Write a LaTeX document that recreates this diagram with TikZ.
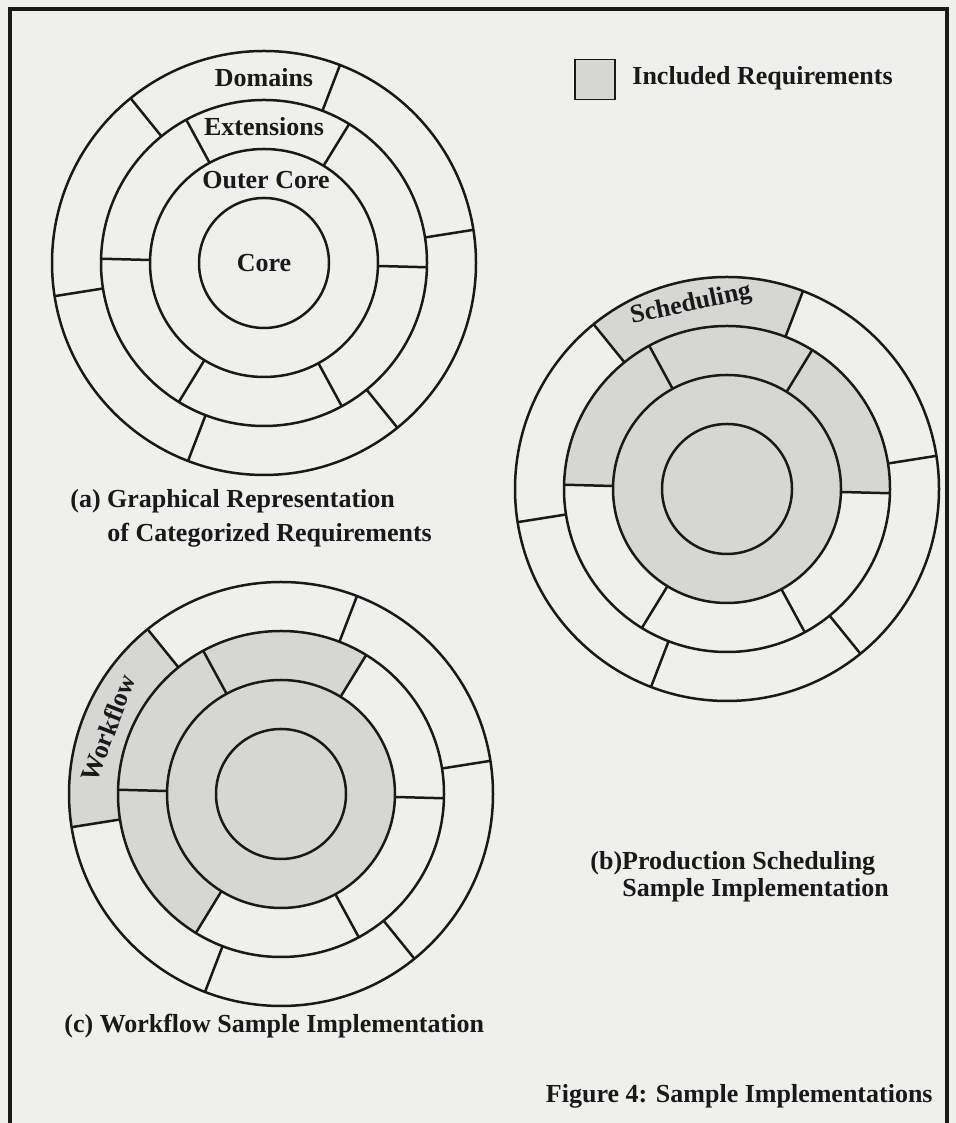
\documentclass[tikz,border=0pt]{standalone}
\usepackage{fontspec}
\setmainfont{Liberation Serif}
\usepackage{tikz}
\usetikzlibrary{positioning}
\usepackage{xcolor}
\definecolor{paper}{RGB}{239, 239, 237}
\definecolor{inclgray}{RGB}{214, 214, 212}
\definecolor{inkblack}{RGB}{25, 25, 25}
% filled ring sector: centre, start angle, end angle, inner radius, outer radius
\newcommand{\ringsector}[5]{%
	\fill[incl, shift={(#1)}] (#2:#4) arc[start angle=#2, end angle=#3, radius=#4]
	-- (#3:#5) arc[start angle=#3, end angle=#2, radius=#5] -- cycle;}

\begin{document}
\begin{tikzpicture}[x=0.5pt, y=0.5pt,
				ringline/.style={draw=inkblack, line width=1.25pt},
				incl/.style={fill=inclgray},
				lbl/.style={font=\fontsize{13}{16}\selectfont\bfseries, inner sep=0pt, text=inkblack},
				capt/.style={lbl, anchor=base west}
				]
				\useasboundingbox[fill=paper] (0,0) rectangle (956,1123);
				% frame, its lower edge is cut off
				\draw[inkblack, line width=1.8pt] (10,0) -- (10,1114) -- (947,1114) -- (947,0);
				\coordinate (ca) at (264,860);
				\coordinate (cb) at (727,634);
				\coordinate (cc) at (281,329);
				% included requirements
				\fill[incl] (cb) circle[radius=114];
				\ringsector{cb}{-1.5}{178.5}{114}{163}
				\ringsector{cb}{69}{129}{163}{212}
				\fill[incl] (cc) circle[radius=114];
				\ringsector{cc}{58.5}{238.5}{114}{163}
				\ringsector{cc}{129}{189}{163}{212}
				% rings and sector borders
				\foreach \c in {ca,cb,cc} {
					\foreach \r in {65,114,163,212}
					\draw[ringline] (\c) circle[radius=\r];
					\foreach \a in {-1.5,58.5,...,298.5}
					\draw[ringline, shift={(\c)}] (\a:114) -- (\a:163);
					\foreach \a in {9,69,...,309}
					\draw[ringline, shift={(\c)}] (\a:163) -- (\a:212);
				}
				\node[lbl, anchor=base] (domains) at (264,1036) {Domains};
				\node[lbl, anchor=base] (extensions) at (264,987) {Extensions};
				\node[lbl, anchor=base] (outercore) at (266,934) {Outer Core};
				\node[lbl, anchor=base] (core) at (264,851) {Core};
				\node[lbl, rotate=12] (sched) at (691,818) {Scheduling};
				\node[lbl, rotate=69] (workflow) at (108,395) {Workflow};
				% legend
				\node[draw=inkblack, fill=inclgray, line width=0.9pt, minimum size=20pt,
				inner sep=0pt] (legbox) at (595,1043.5) {};
				\node[capt] (legtext) at (632,1038) {Included Requirements};
				% captions
				\node[capt] (capa1) at (70,615) {(a) Graphical Representation};
				\node[capt] (capa2) at (107,581) {of Categorized Requirements};
				\node[capt] (capb1) at (590,253) {(b)Production Scheduling};
				\node[capt] (capb2) at (622,226) {Sample Implementation};
				\node[capt] (capc) at (64,90) {(c) Workflow Sample Implementation};
				\node[lbl, anchor=base east] (figcap) at (933,20) {Figure 4: Sample Implementations};
			\end{tikzpicture}
\end{document}
